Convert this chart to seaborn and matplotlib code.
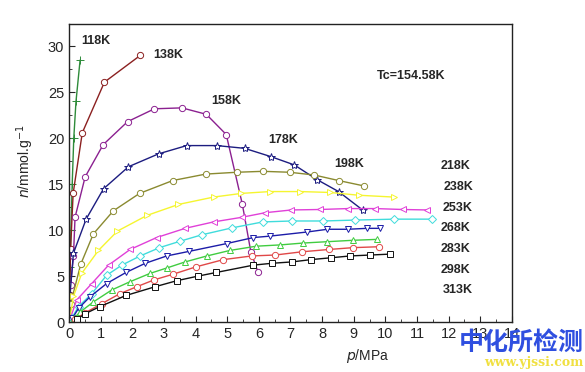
import matplotlib
matplotlib.use("Agg")
import matplotlib.pyplot as plt
import seaborn as sns
import pandas as pd
from matplotlib.ticker import MultipleLocator

# adsorption isotherms, p in MPa, n in mmol/g
p_118 = [0.005, 0.01, 0.03, 0.06, 0.10, 0.15, 0.22, 0.35]
n_118 = [0.5, 2.0, 6.0, 10.0, 15.0, 20.0, 24.0, 28.5]

p_138 = [0.005, 0.02, 0.05, 0.13, 0.42, 1.12, 2.25]
n_138 = [0.5, 3.0, 8.0, 14.0, 20.6, 26.1, 29.0]

p_158 = [0.01, 0.05, 0.14, 0.19, 0.51, 1.08, 1.85, 2.70, 3.57, 4.34, 4.97, 5.48, 5.75, 5.98]
n_158 = [0.5, 4.0, 7.2, 11.4, 15.8, 19.3, 21.8, 23.2, 23.3, 22.6, 20.4, 12.8, 7.6, 5.4]

p_178 = [0.01, 0.03, 0.14, 0.54, 1.09, 1.88, 2.83, 3.72, 4.67, 5.55, 6.38, 7.12, 7.84, 8.52, 9.28]
n_178 = [0.5, 3.0, 7.5, 11.2, 14.5, 16.9, 18.3, 19.2, 19.2, 18.9, 18.0, 17.1, 15.5, 14.2, 12.2]

p_198 = [0.01, 0.05, 0.37, 0.77, 1.40, 2.23, 3.28, 4.32, 5.31, 6.13, 6.97, 7.75, 8.52, 9.34]
n_198 = [0.3, 2.0, 6.3, 9.6, 12.1, 14.0, 15.4, 16.1, 16.3, 16.4, 16.3, 16.0, 15.4, 14.8]

p_218 = [0.03, 0.14, 0.40, 0.93, 1.53, 2.46, 3.46, 4.57, 5.45, 6.36, 7.31, 8.26, 9.16, 10.27]
n_218 = [0.5, 2.8, 5.3, 7.8, 9.9, 11.6, 12.8, 13.6, 14.0, 14.2, 14.2, 14.1, 13.8, 13.6]

p_238 = [0.05, 0.24, 0.72, 1.25, 1.93, 2.77, 3.67, 4.57, 5.46, 6.20, 7.03, 7.94, 8.81, 9.68, 10.55, 11.32]
n_238 = [0.5, 2.4, 4.2, 6.2, 7.9, 9.2, 10.2, 10.9, 11.4, 11.9, 12.2, 12.25, 12.35, 12.35, 12.25, 12.2]

p_253 = [0.08, 0.30, 0.72, 1.19, 1.67, 2.25, 2.86, 3.51, 4.20, 5.15, 6.13, 7.05, 8.02, 9.05, 10.28, 11.48]
n_253 = [0.4, 1.7, 3.1, 5.1, 6.2, 7.2, 8.1, 8.8, 9.5, 10.25, 10.9, 11.0, 11.0, 11.1, 11.2, 11.2]

p_268 = [0.10, 0.30, 0.66, 1.19, 1.80, 2.41, 3.09, 3.80, 4.99, 5.83, 6.34, 7.52, 8.17, 8.81, 9.42, 9.84]
n_268 = [0.4, 1.5, 2.75, 4.2, 5.4, 6.4, 7.2, 7.7, 8.55, 9.2, 9.35, 9.8, 10.1, 10.1, 10.2, 10.2]

p_283 = [0.15, 0.35, 0.77, 1.35, 1.93, 2.56, 3.10, 3.67, 4.36, 5.09, 5.92, 6.68, 7.39, 8.17, 8.97, 9.73]
n_283 = [0.4, 1.1, 2.2, 3.5, 4.4, 5.3, 5.9, 6.55, 7.2, 7.8, 8.26, 8.4, 8.6, 8.75, 8.9, 9.0]

p_298 = [0.20, 0.50, 1.03, 1.61, 2.14, 2.69, 3.28, 4.00, 4.88, 5.78, 6.52, 7.36, 8.21, 8.97, 9.79]
n_298 = [0.3, 1.0, 2.0, 3.1, 3.85, 4.6, 5.2, 6.0, 6.8, 7.2, 7.3, 7.65, 7.9, 8.1, 8.2]

p_313 = [0.25, 0.50, 0.98, 1.80, 2.72, 3.40, 4.07, 4.65, 5.83, 6.41, 7.05, 7.65, 8.28, 8.89, 9.53, 10.16]
n_313 = [0.3, 0.9, 1.7, 2.9, 3.85, 4.5, 5.0, 5.4, 6.2, 6.4, 6.55, 6.8, 7.0, 7.2, 7.3, 7.4]

series = [
    ("118K", p_118, n_118, "#2e8b3a", "+"),
    ("138K", p_138, n_138, "#8b2020", "o"),
    ("158K", p_158, n_158, "#8b2090", "o"),
    ("178K", p_178, n_178, "#1c1c80", "*"),
    ("198K", p_198, n_198, "#8a8a30", "o"),
    ("218K", p_218, n_218, "#f5f530", ">"),
    ("238K", p_238, n_238, "#e040d8", "<"),
    ("253K", p_253, n_253, "#40dcdc", "D"),
    ("268K", p_268, n_268, "#1c1ca8", "v"),
    ("283K", p_283, n_283, "#40cc40", "^"),
    ("298K", p_298, n_298, "#e04848", "o"),
    ("313K", p_313, n_313, "#111111", "s"),
]

# label positions (p, n)
label_pos = {
    "118K": (0.40, 30.6), "138K": (2.65, 29.0), "158K": (4.50, 24.1),
    "178K": (6.30, 19.8), "198K": (8.40, 17.2), "218K": (11.75, 17.0),
    "238K": (11.85, 14.7), "253K": (11.80, 12.4), "268K": (11.75, 10.2),
    "283K": (11.75, 7.9), "298K": (11.75, 5.65), "313K": (11.80, 3.45),
}

sns.set_style("ticks")
plt.rcParams["font.family"] = ["Liberation Sans", "DejaVu Sans"]

fig = plt.figure(figsize=(5.85, 3.72), dpi=100)
ax = fig.add_axes([0.118, 0.134, 0.757, 0.801])

for name, p, n, color, mk in series:
    df = pd.DataFrame({"p": p, "n": n})
    ms = 6 if mk in ("*", "+") else 4.5
    sns.lineplot(data=df, x="p", y="n", ax=ax, color=color, lw=1.0,
                 marker=mk, markersize=ms, markerfacecolor="white",
                 markeredgecolor=color, markeredgewidth=0.7, sort=False)
    tx, ty = label_pos[name]
    ax.text(tx, ty, name, fontsize=9, fontweight="bold", ha="left", va="center")

ax.text(9.72, 26.8, "Tc=154.58K", fontsize=9, fontweight="bold", ha="left", va="center")

ax.set_xlim(0, 14)
ax.set_ylim(0, 32.4)
ax.xaxis.set_major_locator(MultipleLocator(1))
ax.xaxis.set_minor_locator(MultipleLocator(0.5))
ax.yaxis.set_major_locator(MultipleLocator(5))
ax.yaxis.set_minor_locator(MultipleLocator(2.5))
ax.tick_params(which="both", direction="in", top=False, right=False, labelsize=10.5)
ax.tick_params(which="major", length=4)
ax.tick_params(which="minor", length=2.5)
for s in ax.spines.values():
    s.set_linewidth(1.0)
    s.set_color("#222222")

ax.set_xlabel(r"$p$/MPa", fontsize=10, labelpad=0)
ax.xaxis.set_label_coords(0.675, -0.085)
ax.set_ylabel(r"$n$/mmol.g$^{-1}$", fontsize=10, labelpad=2)
ax.yaxis.set_label_coords(-0.075, 0.54)

# watermark
fig.text(0.998, 0.075, "中化所检测", fontsize=18, fontweight="bold", color="#2f4fe0",
         ha="right", va="center", family=["Noto Sans CJK SC", "DejaVu Sans"])
fig.text(0.998, 0.025, "www.yjssi.com", fontsize=9, fontweight="bold", color="#f0e040",
         ha="right", va="center", family=["DejaVu Serif"])

fig.savefig("out.png", dpi=100)
